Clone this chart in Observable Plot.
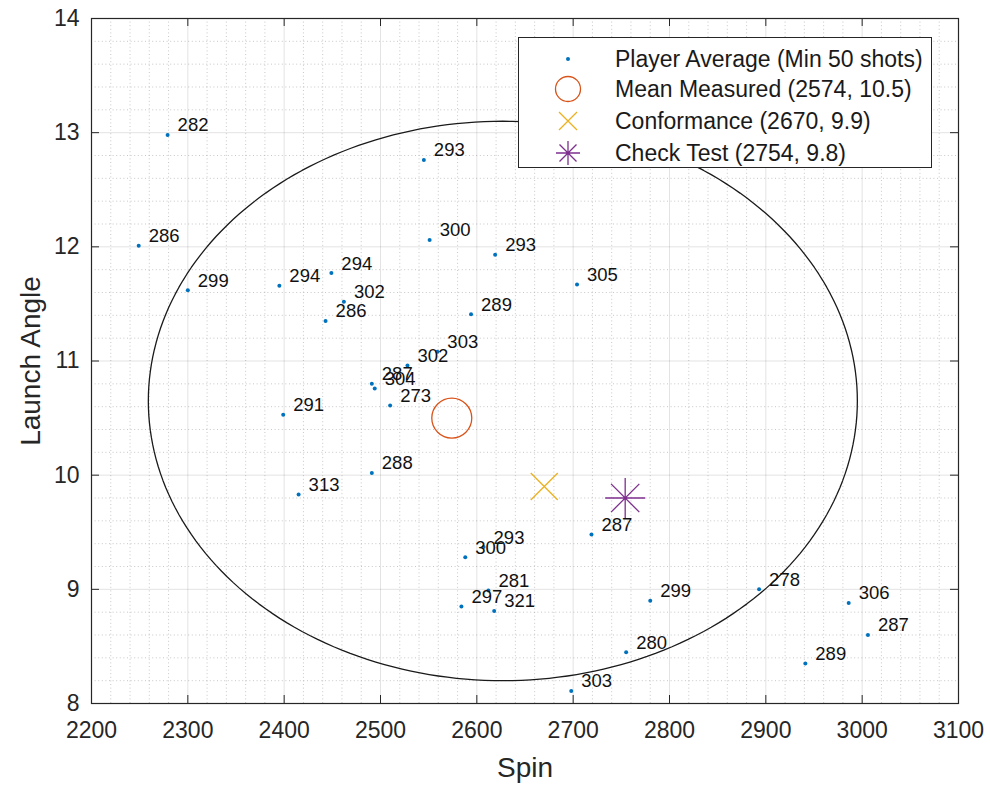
<!DOCTYPE html>
<html>
<head>
<meta charset="utf-8">
<script src="https://cdn.jsdelivr.net/npm/d3@7"></script>
<script src="https://cdn.jsdelivr.net/npm/@observablehq/plot@0.6"></script>
<style>
  body { margin: 0; background: #fff; }
  #wrap { position: relative; width: 990px; height: 786px; font-family: "Liberation Sans", Arial, Helvetica, sans-serif; }
  #legend { position: absolute; left: 518px; top: 37px; width: 414px; height: 131px; border: 1px solid #262626; background: #fff; box-sizing: border-box; }
  .row { position: absolute; left: 0; height: 30px; width: 410px; }
  .row svg { position: absolute; left: 30px; top: -4px; }
  .row span { position: absolute; left: 96px; top: 0; line-height: 30px; font-size: 23px; color: #1a1a1a; white-space: nowrap; }
</style>
</head>
<body>
<div id="wrap"></div>
<script>
// ---- data ----
const spinValues   = [2279, 2249, 2300, 2395, 2449, 2462, 2443, 2594, 2528, 2559, 2491, 2494, 2510, 2399, 2491, 2415, 2545, 2551, 2619, 2704, 2719, 2588, 2607, 2612, 2584, 2618, 2780, 2755, 2698, 2893, 2986, 3006, 2941];
const launchValues = [12.98, 12.01, 11.62, 11.66, 11.77, 11.52, 11.35, 11.41, 10.96, 11.08, 10.80, 10.76, 10.61, 10.53, 10.02, 9.83, 12.76, 12.06, 11.93, 11.67, 9.48, 9.28, 9.37, 8.99, 8.85, 8.81, 8.90, 8.45, 8.11, 9.00, 8.88, 8.60, 8.35];
const pointLabels  = [282, 286, 299, 294, 294, 302, 286, 289, 302, 303, 287, 304, 273, 291, 288, 313, 293, 300, 293, 305, 287, 300, 293, 281, 297, 321, 299, 280, 303, 278, 306, 287, 289];

const meanMeasured = {spin: 2574, launch: 10.5};
const conformance  = {spin: 2670, launch: 9.9};
const checkTest    = {spin: 2754, launch: 9.8};

// ellipse (center and semi-axes in data units)
const ellipseCenter = {spin: 2627, launch: 10.65};
const ellipseRadii  = {spin: 368, launch: 2.45};

const xTicks = [2200, 2300, 2400, 2500, 2600, 2700, 2800, 2900, 3000, 3100];
const yTicks = [8, 9, 10, 11, 12, 13, 14];

const legendLabels = [
  "Player Average (Min 50 shots)",
  "Mean Measured (2574, 10.5)",
  "Conformance (2670, 9.9)",
  "Check Test (2754, 9.8)"
];

// ---- build ----
const players = spinValues.map((s, i) => ({spin: s, launch: launchValues[i], label: String(pointLabels[i])}));
const ellipsePts = d3.range(0, 241).map(i => {
  const t = (i / 240) * 2 * Math.PI;
  return {spin: ellipseCenter.spin + ellipseRadii.spin * Math.cos(t), launch: ellipseCenter.launch + ellipseRadii.launch * Math.sin(t)};
});
const minorX = d3.range(0, 46).filter(i => i % 5 !== 0).map(i => 2200 + i * 20);
const minorY = d3.range(0, 31).filter(i => i % 5 !== 0).map(i => +(8 + i * 0.2).toFixed(1));

const W = 990, H = 786, mL = 91, mR = 32, mT = 18, mB = 83;
const innerW = W - mL - mR, innerH = H - mT - mB;

const symX = {draw(ctx, size) { const r = Math.sqrt(size / Math.PI); ctx.moveTo(-r, -r); ctx.lineTo(r, r); ctx.moveTo(-r, r); ctx.lineTo(r, -r); }};
const symStar = {draw(ctx, size) { const r = Math.sqrt(size / Math.PI); const d = r * Math.SQRT1_2;
  ctx.moveTo(-r, 0); ctx.lineTo(r, 0); ctx.moveTo(0, -r); ctx.lineTo(0, r);
  ctx.moveTo(-d, -d); ctx.lineTo(d, d); ctx.moveTo(-d, d); ctx.lineTo(d, -d); }};

const font = "Liberation Sans, Arial, Helvetica, sans-serif";
const gridMinor = {stroke: "#9a9a9a", strokeOpacity: 0.55, strokeDasharray: "1,2.6", strokeWidth: 1};
const gridMajor = {stroke: "#262626", strokeOpacity: 0.13, strokeWidth: 1};

const chart = Plot.plot({
  width: W, height: H,
  marginLeft: mL, marginRight: mR, marginTop: mT, marginBottom: mB,
  style: {fontFamily: font, background: "#fff", color: "#262626"},
  x: {domain: [2200, 3100]},
  y: {domain: [8, 14]},
  marks: [
    Plot.ruleX(minorX, gridMinor),
    Plot.ruleY(minorY, gridMinor),
    Plot.ruleX(xTicks, gridMajor),
    Plot.ruleY(yTicks, gridMajor),
    Plot.line(ellipsePts, {x: "spin", y: "launch", stroke: "#1a1a1a", strokeWidth: 1.3}),
    Plot.dot(players, {x: "spin", y: "launch", r: 2, fill: "#0072BD", stroke: "none"}),
    Plot.text(players, {x: "spin", y: "launch", text: "label", dx: 10, dy: -9.5, textAnchor: "start", fontSize: 18.5, fill: "#111"}),
    Plot.dot([meanMeasured], {x: "spin", y: "launch", r: 20, stroke: "#D95319", strokeWidth: 1.3, fill: "none"}),
    Plot.dot([conformance], {x: "spin", y: "launch", r: 13.5, symbol: symX, stroke: "#EDB120", strokeWidth: 1.3, fill: "none"}),
    Plot.dot([checkTest], {x: "spin", y: "launch", r: 20, symbol: symStar, stroke: "#7E2F8E", strokeWidth: 1.3, fill: "none"}),
    Plot.ruleX(xTicks, {insetTop: innerH - 8, stroke: "#262626"}),
    Plot.ruleX(xTicks, {insetBottom: innerH - 8, stroke: "#262626"}),
    Plot.ruleY(yTicks, {insetRight: innerW - 8, stroke: "#262626"}),
    Plot.ruleY(yTicks, {insetLeft: innerW - 8, stroke: "#262626"}),
    Plot.frame({stroke: "#262626", strokeWidth: 1.2}),
    Plot.axisX({ticks: xTicks, tickSize: 0, tickPadding: 18, fontSize: 23, label: null, tickFormat: d => String(d), fill: "#262626"}),
    Plot.axisY({ticks: yTicks, tickSize: 0, tickPadding: 12, fontSize: 23, label: null, tickFormat: d => String(d), fill: "#262626"}),
    Plot.text(["Spin"], {frameAnchor: "bottom", dy: 65, textAnchor: "middle", lineAnchor: "middle", fontSize: 28, fill: "#262626"}),
    Plot.text(["Launch Angle"], {frameAnchor: "left", dx: -60, rotate: -90, textAnchor: "middle", lineAnchor: "middle", fontSize: 28, fill: "#262626"})
  ]
});

const wrap = document.getElementById("wrap");
wrap.appendChild(chart);

// legend
const legend = document.createElement("div");
legend.id = "legend";
const icons = [
  `<svg width="38" height="38"><circle cx="19" cy="19" r="2" fill="#0072BD"/></svg>`,
  `<svg width="38" height="38"><circle cx="19" cy="19" r="12.5" fill="none" stroke="#D95319" stroke-width="1.3"/></svg>`,
  `<svg width="38" height="38"><path d="M10,10L28,28M10,28L28,10" stroke="#EDB120" stroke-width="1.3" fill="none"/></svg>`,
  `<svg width="38" height="38"><path d="M7,19H31M19,7V31M10.5,10.5L27.5,27.5M10.5,27.5L27.5,10.5" stroke="#7E2F8E" stroke-width="1.3" fill="none"/></svg>`
];
const rowTops = [6, 36, 68, 100];
legendLabels.forEach((t, i) => {
  const row = document.createElement("div");
  row.className = "row";
  row.style.top = rowTops[i] + "px";
  row.innerHTML = icons[i] + `<span>${t}</span>`;
  legend.appendChild(row);
});
wrap.appendChild(legend);
</script>
</body>
</html>
